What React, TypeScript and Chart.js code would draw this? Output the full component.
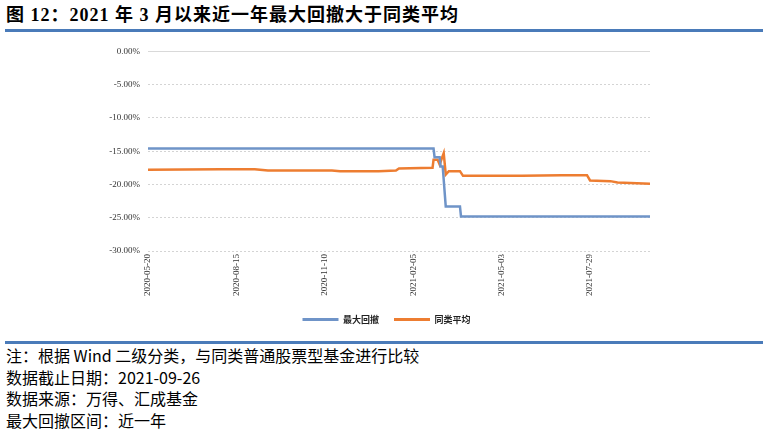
import { useEffect, useRef } from "react";
import { Chart, registerables } from "chart.js";

Chart.register(...registerables);

const titleText = "图 12：2021 年 3 月以来近一年最大回撤大于同类平均";
const noteLines = [
  "注：根据 Wind 二级分类，与同类普通股票型基金进行比较",
  "数据截止日期：2021-09-26",
  "数据来源：万得、汇成基金",
  "最大回撤区间：近一年",
];

const seriesNames = ["最大回撤", "同类平均"];
const seriesColors = ["#6f94c8", "#ed7d31"];

const startDate = "2020-05-20";
const endDate = "2021-09-26";
const xTickDates = ["2020-05-20", "2020-08-15", "2020-11-10", "2021-02-05", "2021-05-03", "2021-07-29"];

// 最大回撤 (%), values where the line changes
const drawdownDates = [
  "2020-05-20", "2021-02-25", "2021-02-26", "2021-03-03", "2021-03-04",
  "2021-03-06", "2021-03-09", "2021-03-23", "2021-03-24", "2021-09-26",
];
const drawdownValues = [-14.6, -14.6, -15.9, -15.9, -17.3, -17.3, -23.3, -23.3, -24.8, -24.8];

// 同类平均 (%)
const peerDates = [
  "2020-05-20", "2020-07-31", "2020-09-02", "2020-09-15", "2020-11-17",
  "2020-11-25", "2021-01-02", "2021-01-19", "2021-01-22", "2021-02-24",
  "2021-02-25", "2021-03-01", "2021-03-03", "2021-03-07", "2021-03-09",
  "2021-03-12", "2021-03-23", "2021-03-26", "2021-05-23", "2021-07-01",
  "2021-07-26", "2021-07-29", "2021-08-18", "2021-08-25", "2021-09-26",
];
const peerValues = [
  -17.8, -17.7, -17.7, -17.9, -17.9,
  -18.0, -18.0, -17.9, -17.6, -17.5,
  -16.3, -16.3, -17.0, -15.3, -18.5,
  -18.0, -18.0, -18.7, -18.7, -18.6,
  -18.6, -19.4, -19.5, -19.7, -19.9,
];

const yMin = -30;
const yMax = 0;
const yStep = 5;

const DAY = 86400000;
function dayOf(d: string) {
  return Math.round((Date.parse(d) - Date.parse(startDate)) / DAY);
}
function dateOf(n: number) {
  return new Date(Date.parse(startDate) + n * DAY).toISOString().slice(0, 10);
}

const zeroLine = {
  id: "zeroLine",
  beforeDatasetsDraw(chart: any) {
    const { ctx, chartArea, scales } = chart;
    const y = Math.round(scales.y.getPixelForValue(0)) + 0.5;
    ctx.save();
    ctx.strokeStyle = "#d9d9d9";
    ctx.lineWidth = 1;
    ctx.beginPath();
    ctx.moveTo(chartArea.left, y);
    ctx.lineTo(chartArea.right, y);
    ctx.stroke();
    ctx.restore();
  },
};

function DrawdownChart() {
  const chartRef = useRef<Chart | null>(null);
  const canvasRef = useRef<HTMLCanvasElement | null>(null);

  useEffect(() => {
    const data = {
      datasets: [
        {
          label: seriesNames[0],
          data: drawdownDates.map((d, i) => ({ x: dayOf(d), y: drawdownValues[i] })),
          borderColor: seriesColors[0],
          backgroundColor: seriesColors[0],
          borderWidth: 2.5,
          pointRadius: 0,
          tension: 0,
        },
        {
          label: seriesNames[1],
          data: peerDates.map((d, i) => ({ x: dayOf(d), y: peerValues[i] })),
          borderColor: seriesColors[1],
          backgroundColor: seriesColors[1],
          borderWidth: 2.5,
          pointRadius: 0,
          tension: 0,
        },
      ],
    };

    const options: any = {
      animation: false,
      responsive: true,
      maintainAspectRatio: false,
      layout: { padding: { top: 13, right: 27, bottom: 4, left: 0 } },
      scales: {
        x: {
          type: "linear",
          min: 0,
          max: dayOf(endDate),
          grid: { display: false, drawTicks: false },
          border: { display: false },
          afterBuildTicks: (scale: any) => {
            scale.ticks = xTickDates.map((d) => ({ value: dayOf(d) }));
          },
          afterFit: (scale: any) => {
            scale.height = 49;
          },
          ticks: {
            minRotation: 90,
            maxRotation: 90,
            padding: 3,
            color: "#333",
            font: { family: "'Liberation Serif', serif", size: 9 },
            callback: (v: any) => dateOf(Number(v)),
          },
        },
        y: {
          min: yMin,
          max: yMax,
          grid: { color: "#d4d4d4", lineWidth: 1, drawTicks: false },
          border: { display: false, dash: [2, 2] },
          afterFit: (scale: any) => {
            scale.width = 88;
          },
          ticks: {
            stepSize: yStep,
            padding: 8,
            color: "#333",
            font: { family: "'Liberation Serif', serif", size: 9 },
            callback: (v: any) => Number(v).toFixed(2) + "%",
          },
        },
        // empty spacer on the right so the legend sits centred as in the original
        spacer: {
          type: "linear",
          position: "right",
          min: yMin,
          max: yMax,
          grid: { display: false, drawTicks: false },
          border: { display: false },
          ticks: { display: false },
          afterFit: (scale: any) => {
            scale.width = 63;
          },
        },
      },
      plugins: {
        legend: {
          position: "bottom",
          labels: {
            boxWidth: 36,
            boxHeight: 3,
            padding: 15,
            color: "#222",
            font: { family: "'Noto Sans CJK SC', sans-serif", size: 9, weight: "bold" },
            generateLabels: (chart: any) =>
              Chart.defaults.plugins.legend.labels
                .generateLabels(chart)
                .map((l: any) => ({ ...l, lineWidth: 0 })),
          },
        },
        tooltip: { enabled: false },
      },
    };

    if (chartRef.current) {
      chartRef.current.destroy();
    }

    const ctx = canvasRef.current?.getContext("2d");
    if (ctx) {
      chartRef.current = new Chart(ctx, {
        type: "line",
        data,
        options,
        plugins: [zeroLine],
      });
    }

    return () => {
      if (chartRef.current) {
        chartRef.current.destroy();
        chartRef.current = null;
      }
    };
  }, []);

  return (
    <div style={{ position: "absolute", left: 60, top: 38, width: 680, height: 300 }}>
      <canvas ref={canvasRef} />
    </div>
  );
}

export default function App() {
  return (
    <div
      style={{
        position: "absolute",
        left: 0,
        top: 0,
        width: 782,
        height: 429,
        background: "#fff",
        overflow: "hidden",
      }}
    >
      <div
        style={{
          position: "absolute",
          left: 6,
          top: 6,
          fontFamily: "'Liberation Serif', 'Noto Sans CJK SC', serif",
          fontWeight: "bold",
          fontSize: 18,
          letterSpacing: 1,
          lineHeight: "18px",
          color: "#000",
          whiteSpace: "nowrap",
        }}
      >
        {titleText}
      </div>
      <div style={{ position: "absolute", left: 5, top: 29, width: 758, height: 3, background: "#4a7bb9" }} />
      <DrawdownChart />
      <div style={{ position: "absolute", left: 5, top: 341, width: 758, height: 3, background: "#4a7bb9" }} />
      <div
        style={{
          position: "absolute",
          left: 6,
          top: 345,
          fontFamily: "'Noto Sans CJK SC', sans-serif",
          fontSize: 16,
          lineHeight: "21.5px",
          color: "#000",
          whiteSpace: "nowrap",
        }}
      >
        {noteLines.map((t) => (
          <div key={t}>{t}</div>
        ))}
      </div>
    </div>
  );
}
